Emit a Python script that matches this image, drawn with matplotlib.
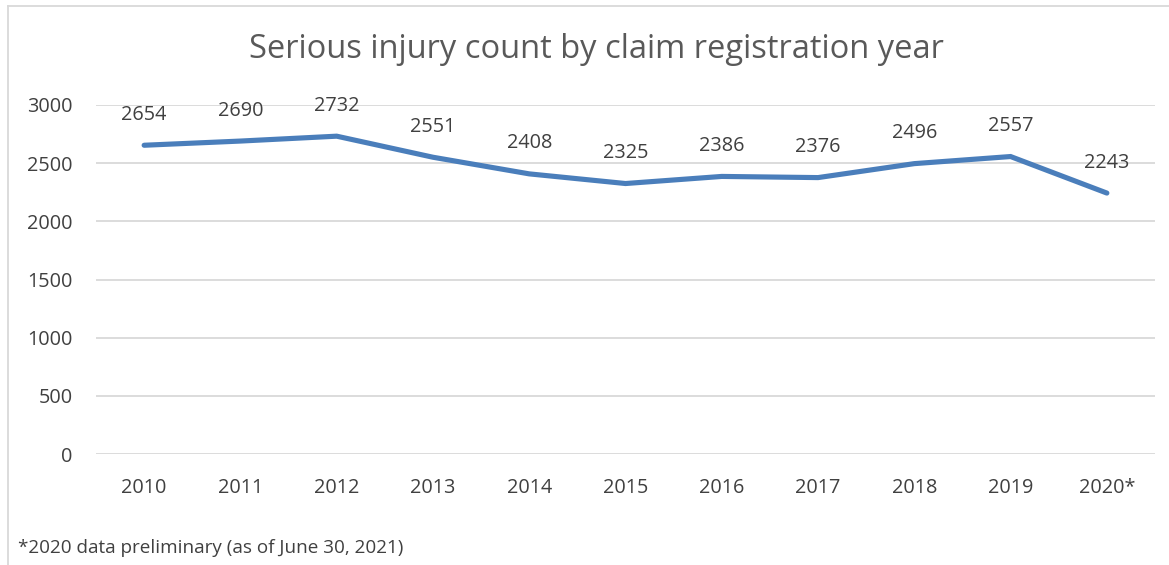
import matplotlib.pyplot as plt
from matplotlib.lines import Line2D

years = ['2010', '2011', '2012', '2013', '2014', '2015', '2016', '2017', '2018', '2019', '2020*']
counts = [2654, 2690, 2732, 2551, 2408, 2325, 2386, 2376, 2496, 2557, 2243]
yticks = [0, 500, 1000, 1500, 2000, 2500, 3000]

plt.rcParams['font.family'] = ['Open Sans', 'DejaVu Sans']
txt = '#404040'

W, H = 1169, 565
fig = plt.figure(figsize=(W / 100, H / 100), dpi=100)
ax = fig.add_axes([96 / W, 1 - 454 / H, (1155 - 96) / W, (454 - 105) / H])

x = list(range(len(years)))
ax.plot(x, counts, color='#4a7ebb', lw=3.7, solid_capstyle='round', solid_joinstyle='miter', zorder=3)
for xi, v in zip(x, counts):
    ax.annotate(str(v), (xi, v), xytext=(0, 22), textcoords='offset points',
                ha='center', va='center', fontsize=14.3, color=txt)

ax.set_xlim(-0.5, len(years) - 0.5)
ax.set_ylim(0, 3000)
ax.set_yticks(yticks)
ax.set_xticks(x)
ax.set_xticklabels(years)
ax.tick_params(axis='both', length=0, labelsize=14.3, labelcolor=txt)
ax.tick_params(axis='y', pad=17)
ax.tick_params(axis='x', pad=17)
ax.yaxis.grid(True, color='#d9d9d9', lw=1.3)
ax.set_axisbelow(True)
for s in ax.spines.values():
    s.set_visible(False)

fig.text(596 / W, 1 - 50 / H, 'Serious injury count by claim registration year',
         ha='center', va='center', fontsize=23.5, color='#595959')
fig.text(18 / W, 1 - 548 / H, '*2020 data preliminary (as of June 30, 2021)',
         ha='left', va='center', fontsize=13.6, color=txt)

# outer chart border (left and top only visible)
fig.add_artist(Line2D([8 / W, 8 / W], [0, 1 - 6 / H], color='#d9d9d9', lw=1.3))
fig.add_artist(Line2D([8 / W, 1], [1 - 6 / H, 1 - 6 / H], color='#d9d9d9', lw=1.3))

fig.savefig('out.png', dpi=100)
